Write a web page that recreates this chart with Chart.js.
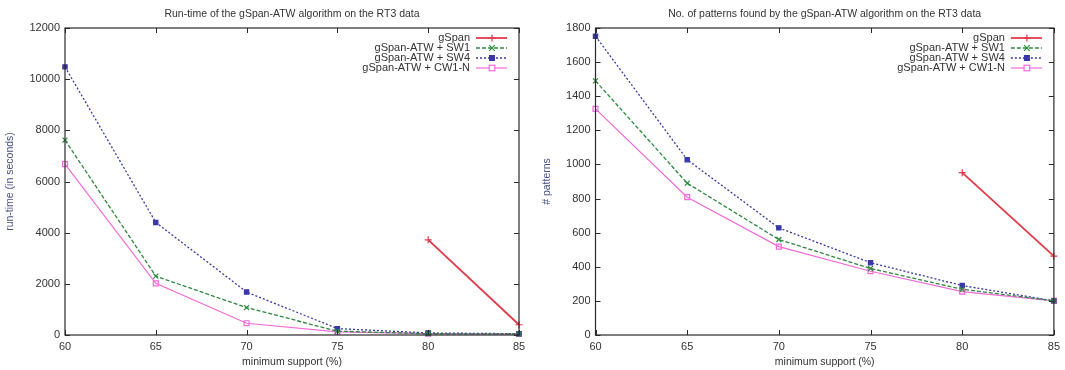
<!DOCTYPE html>
<html>
<head>
<meta charset="utf-8">
<script src="https://cdn.jsdelivr.net/npm/chart.js@4"></script>
<style>
  html, body { margin: 0; padding: 0; background: #ffffff; }
  #wrap { position: relative; width: 1065px; height: 370px; overflow: hidden; }
  .box { position: absolute; top: 0; height: 370px; }
</style>
</head>
<body>
<div id="wrap">
  <div class="box" style="left:0;width:532px"><canvas id="c1" width="532" height="370"></canvas></div>
  <div class="box" style="left:532px;width:533px"><canvas id="c2" width="533" height="370"></canvas></div>
</div>
<script>
// ---- data ----
const minSupport = [60, 65, 70, 75, 80, 85];
const seriesNames = ['gSpan', 'gSpan-ATW + SW1', 'gSpan-ATW + SW4', 'gSpan-ATW + CW1-N'];

// Run-time (seconds)
const runtimeGSpan = [null, null, null, null, 3720, 400];
const runtimeSW1   = [7620, 2300, 1070, 150, 50, 40];
const runtimeSW4   = [10480, 4400, 1680, 250, 80, 50];
const runtimeCW1N  = [6680, 2020, 460, 120, 50, 40];

// Number of patterns
const patternsGSpan = [null, null, null, null, 952, 462];
const patternsSW1   = [1490, 890, 560, 390, 268, 200];
const patternsSW4   = [1752, 1028, 628, 424, 290, 200];
const patternsCW1N  = [1326, 808, 518, 374, 254, 200];

const runtimeTicks  = [0, 2000, 4000, 6000, 8000, 10000, 12000];
const patternsTicks = [0, 200, 400, 600, 800, 1000, 1200, 1400, 1600, 1800];
const xTicks = [60, 65, 70, 75, 80, 85];

// ---- styles ----
const FONT = '"Liberation Sans", Arial, Helvetica, sans-serif';
const styles = [
  { color: '#e23a48', dash: [],     width: 1.8, point: 'cross',    fill: '#e23a48', radius: 3.5 },
  { color: '#2c8a3e', dash: [4, 2], width: 1.3, point: 'crossRot', fill: '#2c8a3e', radius: 3.5 },
  { color: '#3a38a8', dash: [2, 2], width: 1.3, point: 'rect',     fill: '#3a38a8', radius: 3 },
  { color: '#f46ad8', dash: [],     width: 1.2, point: 'rect',     fill: 'rgba(255,255,255,0)', radius: 3.5 }
];

function toPoints(vals) {
  return minSupport.map((x, i) => ({ x: x, y: vals[i] }));
}

const framePlugin = {
  id: 'frame',
  afterDatasetsDraw(chart, args, opts) {
    const ctx = chart.ctx;
    const a = chart.chartArea;
    const xs = chart.scales.x, ys = chart.scales.y;
    ctx.save();
    ctx.strokeStyle = '#2a2a2a';
    ctx.lineWidth = 1.2;
    ctx.setLineDash([]);
    ctx.strokeRect(a.left, a.top, a.right - a.left, a.bottom - a.top);
    ctx.lineWidth = 1;
    const tl = 5;
    xTicks.forEach(v => {
      const px = Math.round(xs.getPixelForValue(v)) + 0.5;
      ctx.beginPath();
      ctx.moveTo(px, a.bottom); ctx.lineTo(px, a.bottom - tl);
      ctx.moveTo(px, a.top); ctx.lineTo(px, a.top + tl);
      ctx.stroke();
    });
    opts.yTicks.forEach(v => {
      const py = Math.round(ys.getPixelForValue(v)) + 0.5;
      ctx.beginPath();
      ctx.moveTo(a.left, py); ctx.lineTo(a.left + tl, py);
      ctx.moveTo(a.right, py); ctx.lineTo(a.right - tl, py);
      ctx.stroke();
    });
    // legend (gnuplot style, top right, sample right of text)
    ctx.font = '11px ' + FONT;
    ctx.textAlign = 'right';
    ctx.textBaseline = 'middle';
    chart.data.datasets.forEach((ds, i) => {
      const st = styles[i];
      const y = a.top + 10 + i * 10;
      ctx.fillStyle = '#333';
      ctx.fillText(ds.label, a.right - 49, y);
      ctx.strokeStyle = st.color;
      ctx.lineWidth = st.width;
      ctx.setLineDash(st.dash);
      ctx.beginPath();
      ctx.moveTo(a.right - 43, y); ctx.lineTo(a.right - 12, y);
      ctx.stroke();
      ctx.setLineDash([]);
      const cx = a.right - 27;
      const r = st.radius;
      ctx.lineWidth = 1.2;
      ctx.beginPath();
      if (st.point === 'cross') {
        ctx.moveTo(cx - r, y); ctx.lineTo(cx + r, y);
        ctx.moveTo(cx, y - r); ctx.lineTo(cx, y + r);
        ctx.stroke();
      } else if (st.point === 'crossRot') {
        ctx.moveTo(cx - r * 0.8, y - r * 0.8); ctx.lineTo(cx + r * 0.8, y + r * 0.8);
        ctx.moveTo(cx + r * 0.8, y - r * 0.8); ctx.lineTo(cx - r * 0.8, y + r * 0.8);
        ctx.stroke();
      } else {
        const s = r * 0.8;
        ctx.fillStyle = i === 3 ? '#ffffff' : st.color;
        ctx.fillRect(cx - s, y - s, 2 * s, 2 * s);
        ctx.strokeRect(cx - s, y - s, 2 * s, 2 * s);
      }
    });
    ctx.restore();
  }
};

function makeChart(id, title, yTitle, yMax, yStep, yTicks, series, rightPad, yAxisWidth, yTitlePad) {
  const datasets = series.map((vals, i) => {
    const st = styles[i];
    return {
      label: seriesNames[i],
      data: toPoints(vals),
      borderColor: st.color,
      backgroundColor: st.fill,
      borderWidth: st.width,
      borderDash: st.dash,
      pointStyle: st.point,
      pointRadius: st.radius,
      pointBorderColor: st.color,
      pointBackgroundColor: st.fill,
      pointBorderWidth: 1.2,
      tension: 0,
      spanGaps: false,
      clip: 6
    };
  });
  return new Chart(document.getElementById(id), {
    type: 'line',
    data: { datasets: datasets },
    options: {
      responsive: false,
      animation: false,
      layout: { padding: { left: 0, right: rightPad, top: 0, bottom: 0 } },
      plugins: {
        legend: { display: false },
        tooltip: { enabled: false },
        title: {
          display: true,
          fullSize: false,
          text: title,
          color: '#333',
          font: { family: FONT, size: 10.5, weight: 'normal' },
          padding: { top: 8, bottom: 7.4 }
        },
        frame: { yTicks: yTicks }
      },
      scales: {
        x: {
          type: 'linear',
          min: 60, max: 85,
          grid: { display: false, drawTicks: false },
          border: { display: false },
          ticks: { stepSize: 5, color: '#333', padding: 5, font: { family: FONT, size: 11 },
                   callback: v => String(v) },
          title: {
            display: true, text: 'minimum support (%)', color: '#333',
            font: { family: FONT, size: 10.5 }, padding: { top: 0, bottom: 2 }
          },
          afterFit(scale) { scale.height = 35; }
        },
        y: {
          min: 0, max: yMax,
          grid: { display: false, drawTicks: false },
          border: { display: false },
          ticks: { stepSize: yStep, color: '#333', padding: 5, font: { family: FONT, size: 11 },
                   callback: v => String(v) },
          title: {
            display: true, text: yTitle, color: '#4a5080',
            font: { family: FONT, size: 10.5 }, padding: { top: yTitlePad, bottom: 0 }
          },
          afterFit(scale) { scale.width = yAxisWidth; }
        }
      }
    },
    plugins: [framePlugin]
  });
}

makeChart('c1', 'Run-time of the gSpan-ATW algorithm on the RT3 data', 'run-time (in seconds)',
  12000, 2000, runtimeTicks, [runtimeGSpan, runtimeSW1, runtimeSW4, runtimeCW1N], 13, 65, 4);
makeChart('c2', 'No. of patterns found by the gSpan-ATW algorithm on the RT3 data', '# patterns',
  1800, 200, patternsTicks, [patternsGSpan, patternsSW1, patternsSW4, patternsCW1N], 11, 63.5, 9);
</script>
</body>
</html>
